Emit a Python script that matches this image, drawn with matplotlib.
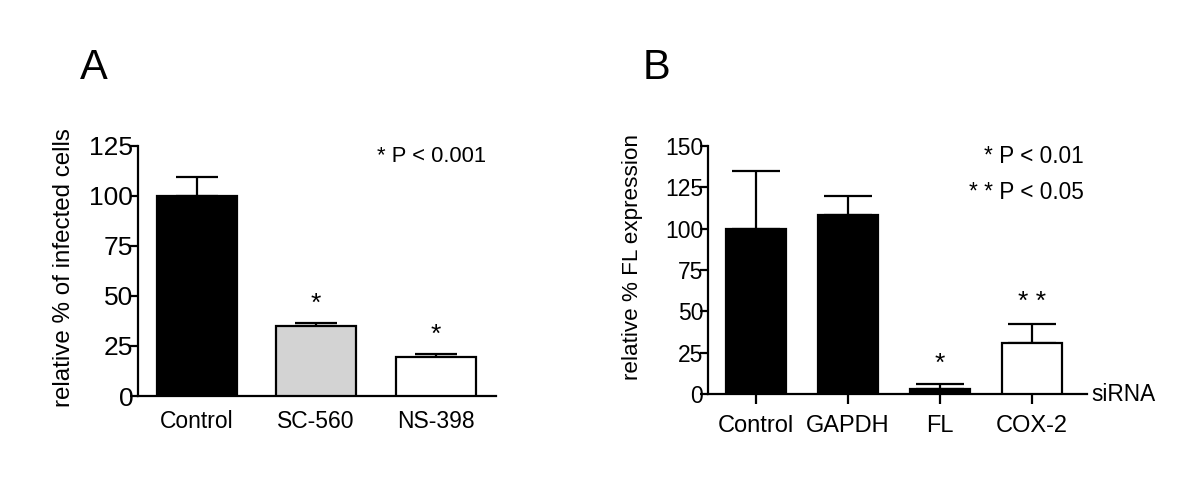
import matplotlib
matplotlib.use("Agg")
import matplotlib.pyplot as plt
import numpy as np

plt.rcParams['font.family'] = ['Liberation Sans', 'DejaVu Sans']

# Panel A data
a_categories = ["Control", "SC-560", "NS-398"]
a_values = [100, 35, 19.5]
a_errors = [9.2, 1.7, 1.5]
a_colors = ["black", "#d3d3d3", "white"]
a_stars = ["", "*", "*"]
a_star_y = [None, 46, 30.5]
a_yticks = [0, 25, 50, 75, 100, 125]

# Panel B data
b_categories = ["Control", "GAPDH", "FL", "COX-2"]
b_values = [100, 108, 3, 31]
b_errors = [35, 11.5, 3.2, 11.4]
b_colors = ["black", "black", "black", "white"]
b_stars = ["", "", "*", "* *"]
b_star_y = [None, None, 18.5, 55.5]
b_yticks = [0, 25, 50, 75, 100, 125, 150]

fig = plt.figure(figsize=(12, 4.8), dpi=100)
lw = 1.6

def style(ax, ytick_fs):
    for s in ["top", "right"]:
        ax.spines[s].set_visible(False)
    for s in ["left", "bottom"]:
        ax.spines[s].set_linewidth(lw)
    ax.tick_params(axis="y", direction="out", length=6, width=lw, labelsize=ytick_fs, pad=-2.5)

# Panel A
axA = fig.add_axes([0.115, 0.175, 0.2983, 0.5215])
xa = np.arange(len(a_categories))
axA.bar(xa, a_values, width=0.67, color=a_colors, edgecolor="black", linewidth=lw, zorder=3)
axA.errorbar(xa, a_values, yerr=[np.zeros(len(a_errors)), a_errors], fmt="none",
             ecolor="black", elinewidth=lw, capsize=15, capthick=lw, zorder=2)
for x, s, y in zip(xa, a_stars, a_star_y):
    if s:
        axA.text(x, y, s, ha="center", va="center", fontsize=19)
axA.set_xlim(-0.49, 2.505)
axA.set_ylim(0, 125)
axA.set_yticks(a_yticks)
axA.set_xticks(xa)
axA.set_xticklabels(a_categories, fontsize=16.5)
axA.tick_params(axis="x", length=0, pad=10)
axA.set_ylabel("relative % of infected cells", fontsize=17.4)
axA.yaxis.set_label_coords((75 - 138) / 358, (396 - 268) / 250.3)
axA.text(2.42, 119.5, "* P < 0.001", ha="right", va="center", fontsize=15.8)
style(axA, 19)
fig.text(94 / 1200, 1 - 68 / 480, "A", fontsize=30, ha="center", va="center")

# Panel B
axB = fig.add_axes([0.59, 0.1785, 0.3156, 0.518])
xb = np.arange(len(b_categories))
axB.bar(xb, b_values, width=0.65, color=b_colors, edgecolor="black", linewidth=lw, zorder=3)
axB.errorbar(xb, b_values, yerr=[np.zeros(len(b_errors)), b_errors], fmt="none",
             ecolor="black", elinewidth=lw, capsize=17, capthick=lw, zorder=2)
for x, s, y in zip(xb, b_stars, b_star_y):
    if s:
        axB.text(x, y, s, ha="center", va="center", fontsize=19)
axB.set_xlim(-0.52, 3.595)
axB.set_ylim(0, 150)
axB.set_yticks(b_yticks)
axB.set_xticks(xb)
axB.set_xticklabels(b_categories, fontsize=17)
axB.tick_params(axis="x", direction="out", length=7, width=lw, pad=8)
axB.set_ylabel("relative % FL expression", fontsize=16.2)
axB.yaxis.set_label_coords((643 - 708) / 378.7, (394.3 - 257) / 248.6)
axB.text(3.56, 143.4, "* P < 0.01", ha="right", va="center", fontsize=16.3)
axB.text(3.56, 122, "* * P < 0.05", ha="right", va="center", fontsize=16.3)
axB.text(3.65, 0, "siRNA", ha="left", va="center", fontsize=16.3, clip_on=False)
style(axB, 16.5)
fig.text(657 / 1200, 1 - 68 / 480, "B", fontsize=30, ha="center", va="center")

fig.savefig("out.png", dpi=100, facecolor="white")
